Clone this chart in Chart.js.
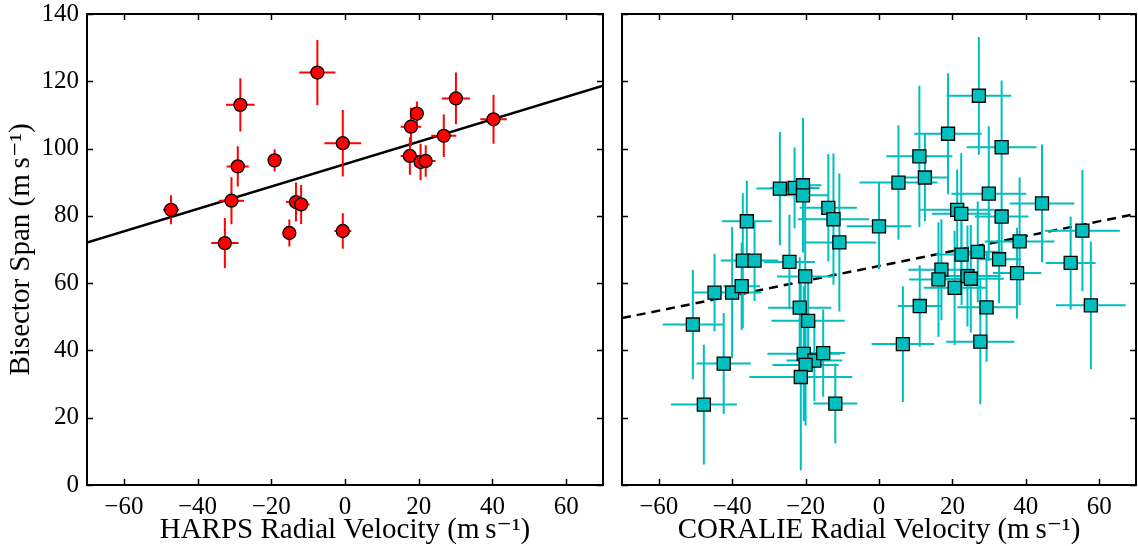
<!DOCTYPE html>
<html lang="en">
<head>
<meta charset="UTF-8">
<title>Bisector Span vs Radial Velocity</title>
<script src="https://cdn.jsdelivr.net/npm/chart.js"></script>
<style>
  html, body { margin: 0; padding: 0; background: #fff; overflow: hidden; }
  #wrap { position: relative; width: 1138px; height: 546px; }
  canvas { position: absolute; top: 0; display: block; }
</style>
</head>
<body>
<div id="wrap">
  <canvas id="harpsChart" width="612" height="546" style="left:0"></canvas>
  <canvas id="coralieChart" width="526" height="546" style="left:612px"></canvas>
</div>
<script>
// tick values shared by both panels
const xTicks = [-60, -40, -20, 0, 20, 40, 60];
const yTicks = [0, 20, 40, 60, 80, 100, 120, 140];

// HARPS (left panel)
const harpsRV    = [-47.2, -32.6, -30.8, -29.1, -28.4, -19.1, -15.1, -13.3, -11.9, -7.5, -0.6, -0.6, 17.9, 19.5, 17.6, 20.5, 21.9, 26.8, 30.1, 40.3];
const harpsBS    = [81.8, 71.9, 84.5, 94.7, 113.0, 96.5, 74.9, 84.1, 83.4, 122.6, 101.6, 75.5, 106.5, 110.4, 97.8, 96.0, 96.3, 103.8, 114.9, 108.7];
const harpsRVErr = [2.2, 3.7, 3.4, 3.0, 3.9, 1.2, 1.2, 2.7, 2.3, 4.9, 5.0, 2.3, 2.8, 1.5, 2.5, 1.3, 2.7, 3.4, 3.8, 3.6];
const harpsBSErr = [4.3, 7.5, 7.0, 6.0, 7.9, 3.3, 4.0, 5.8, 5.8, 9.7, 9.9, 5.3, 5.7, 3.6, 5.6, 5.4, 4.7, 6.3, 7.7, 7.3];
const harpsFitX  = [-70, 70];
const harpsFitY  = [72.1, 118.7];

// CORALIE (right panel)
const coralieRV = [-50.7, -47.7, -44.8, -42.3, -40.0, -37.4, -37.1, -33.9, -36.0, -27.0,
                   -24.4, -23.0, -20.7, -20.7, -13.8, -12.4, -10.8, -20.1, -21.6, -19.3,
                   -20.5, -17.6, -15.2, -20.0, -21.3, -11.9, 0.0, 27.2, 18.8, 11.0,
                   33.4, 5.3, 12.5, 29.9, 44.4, 21.3, 22.4, 33.4, 55.4, 38.3,
                   22.5, 26.9, 32.7, 52.2, 17.0, 37.6, 16.2, 24.1, 25.0, 20.6,
                   11.1, 29.3, 57.7, 6.5, 27.6];
const coralieBS = [47.7, 23.9, 57.2, 36.1, 57.2, 59.1, 66.7, 66.7, 78.4, 88.1,
                   66.3, 88.3, 89.1, 86.1, 82.4, 79.0, 72.1, 62.0, 52.7, 48.8,
                   39.0, 37.0, 39.2, 35.7, 32.1, 24.2, 76.9, 115.7, 104.4, 97.7,
                   100.4, 89.9, 91.4, 86.6, 83.7, 81.8, 80.6, 79.8, 75.6, 72.4,
                   68.5, 69.3, 67.1, 66.0, 64.0, 63.0, 61.1, 62.1, 61.3, 58.6,
                   53.2, 52.8, 53.4, 41.9, 42.6];
const coralieRVErr = [8.2, 9.0, 5.7, 7.4, 8.0, 5.0, 6.0, 6.5, 6.8, 6.4,
                      7.0, 6.8, 5.0, 6.8, 7.8, 9.7, 10.0, 7.7, 8.6, 10.0,
                      9.9, 7.6, 6.0, 9.0, 14.0, 6.0, 8.8, 8.8, 9.2, 9.0,
                      9.5, 10.6, 6.2, 10.2, 8.8, 10.0, 8.0, 7.3, 10.2, 9.5,
                      7.0, 6.0, 6.0, 6.8, 9.0, 6.6, 8.0, 9.0, 9.0, 8.4,
                      6.0, 8.0, 9.5, 8.5, 9.3];
const coralieBSErr = [16.3, 17.8, 11.5, 15.0, 19.5, 13.0, 20.0, 12.0, 12.0, 16.8,
                      14.0, 12.0, 20.0, 8.0, 16.0, 19.5, 20.5, 22.0, 15.0, 14.0,
                      20.0, 12.0, 13.0, 18.0, 27.7, 11.9, 12.8, 17.5, 18.0, 21.0,
                      19.8, 17.0, 13.0, 20.0, 17.5, 12.0, 18.0, 13.0, 18.0, 19.0,
                      15.0, 15.0, 13.0, 13.8, 15.0, 13.5, 17.0, 15.0, 16.0, 17.0,
                      12.1, 16.2, 19.0, 17.2, 18.6];
const coralieFitX = [-70, 70];
const coralieFitY = [49.6, 80.6];

Chart.defaults.font.family = '"Liberation Serif", "DejaVu Serif", serif';
Chart.defaults.color = '#000';

const toPoints = (xs, ys) => xs.map((x, i) => ({x: x, y: ys[i]}));

// error bars as line segments broken by null points
function errorBars(xs, ys, xe, ye) {
  const pts = [];
  xs.forEach((x, i) => {
    const y = ys[i];
    pts.push({x: x - xe[i], y: y}, {x: x + xe[i], y: y}, {x: x, y: null});
    pts.push({x: x, y: y - ye[i]}, {x: x, y: y + ye[i]}, {x: x, y: null});
  });
  return pts;
}

const minus = v => String(v).replace('-', '\u2212');

// frame and inward ticks on all four sides
const frameTicks = {
  id: 'frameTicks',
  afterDraw(chart) {
    const {ctx, chartArea: a, scales: {x, y}} = chart;
    ctx.save();
    ctx.strokeStyle = '#000';
    ctx.lineWidth = 1.5;
    ctx.beginPath();
    xTicks.forEach(v => {
      const px = Math.round(x.getPixelForValue(v)) + 0.5;
      ctx.moveTo(px, a.bottom); ctx.lineTo(px, a.bottom - 6);
      ctx.moveTo(px, a.top); ctx.lineTo(px, a.top + 6);
    });
    yTicks.forEach(v => {
      const py = Math.round(y.getPixelForValue(v)) + 0.5;
      ctx.moveTo(a.left, py); ctx.lineTo(a.left + 6, py);
      ctx.moveTo(a.right, py); ctx.lineTo(a.right - 6, py);
    });
    ctx.stroke();
    ctx.lineWidth = 2;
    ctx.strokeRect(a.left, a.top, a.right - a.left, a.bottom - a.top);
    ctx.restore();
  }
};

function makeChart(id, opt) {
  return new Chart(document.getElementById(id), {
    type: 'scatter',
    data: {
      datasets: [
        {
          data: toPoints(opt.xs, opt.ys),
          pointStyle: opt.marker,
          pointRadius: opt.radius,
          pointBackgroundColor: opt.color,
          pointBorderColor: '#000',
          pointBorderWidth: 1.3,
          order: 0
        },
        {
          data: errorBars(opt.xs, opt.ys, opt.xe, opt.ye),
          showLine: true,
          spanGaps: false,
          borderColor: opt.color,
          borderWidth: 2,
          pointRadius: 0,
          order: 1
        },
        {
          data: toPoints(opt.fitX, opt.fitY),
          showLine: true,
          borderColor: '#000',
          borderWidth: 2.5,
          borderDash: opt.dash,
          pointRadius: 0,
          order: 2
        }
      ]
    },
    options: {
      responsive: false,
      animation: false,
      events: [],
      layout: { autoPadding: false, padding: { top: 14, right: opt.padRight, left: 0, bottom: 0 } },
      plugins: { legend: { display: false }, tooltip: { enabled: false } },
      scales: {
        x: {
          type: 'linear',
          min: -70,
          max: 70,
          afterBuildTicks: s => { s.ticks = xTicks.map(v => ({value: v})); },
          afterFit: s => { s.height = 61; s.paddingLeft = 0; s.paddingRight = 0; },
          grid: { display: false, drawTicks: false },
          border: { display: false },
          ticks: { padding: 7, font: { size: 25 }, callback: minus },
          title: { display: true, text: opt.xTitle, font: { size: 29, lineHeight: 1 }, padding: { bottom: 1 } }
        },
        y: {
          type: 'linear',
          min: 0,
          max: 140,
          afterBuildTicks: s => { s.ticks = yTicks.map(v => ({value: v})); },
          afterFit: s => { s.width = opt.yWidth; s.paddingTop = 0; s.paddingBottom = 0; },
          grid: { display: false, drawTicks: false },
          border: { display: false },
          ticks: { display: opt.yLabels, padding: 8, font: { size: 25 } },
          title: { display: opt.yLabels, text: 'Bisector Span (m\u2009s\u207B\u00B9)', font: { size: 29, lineHeight: 1 }, padding: { top: 7 } }
        }
      }
    },
    plugins: [frameTicks]
  });
}

makeChart('harpsChart', {
  xs: harpsRV, ys: harpsBS, xe: harpsRVErr, ye: harpsBSErr,
  fitX: harpsFitX, fitY: harpsFitY, dash: [],
  marker: 'circle', radius: 6.5, color: '#ff0000',
  xTitle: 'HARPS Radial Velocity (m\u2009s\u207B\u00B9)',
  yLabels: true, yWidth: 87, padRight: 9
});

makeChart('coralieChart', {
  xs: coralieRV, ys: coralieBS, xe: coralieRVErr, ye: coralieBSErr,
  fitX: coralieFitX, fitY: coralieFitY, dash: [9, 6],
  marker: 'rect', radius: 9.2, color: '#00bfbf',
  xTitle: 'CORALIE Radial Velocity (m\u2009s\u207B\u00B9)',
  yLabels: false, yWidth: 10, padRight: 2
});
</script>
</body>
</html>
